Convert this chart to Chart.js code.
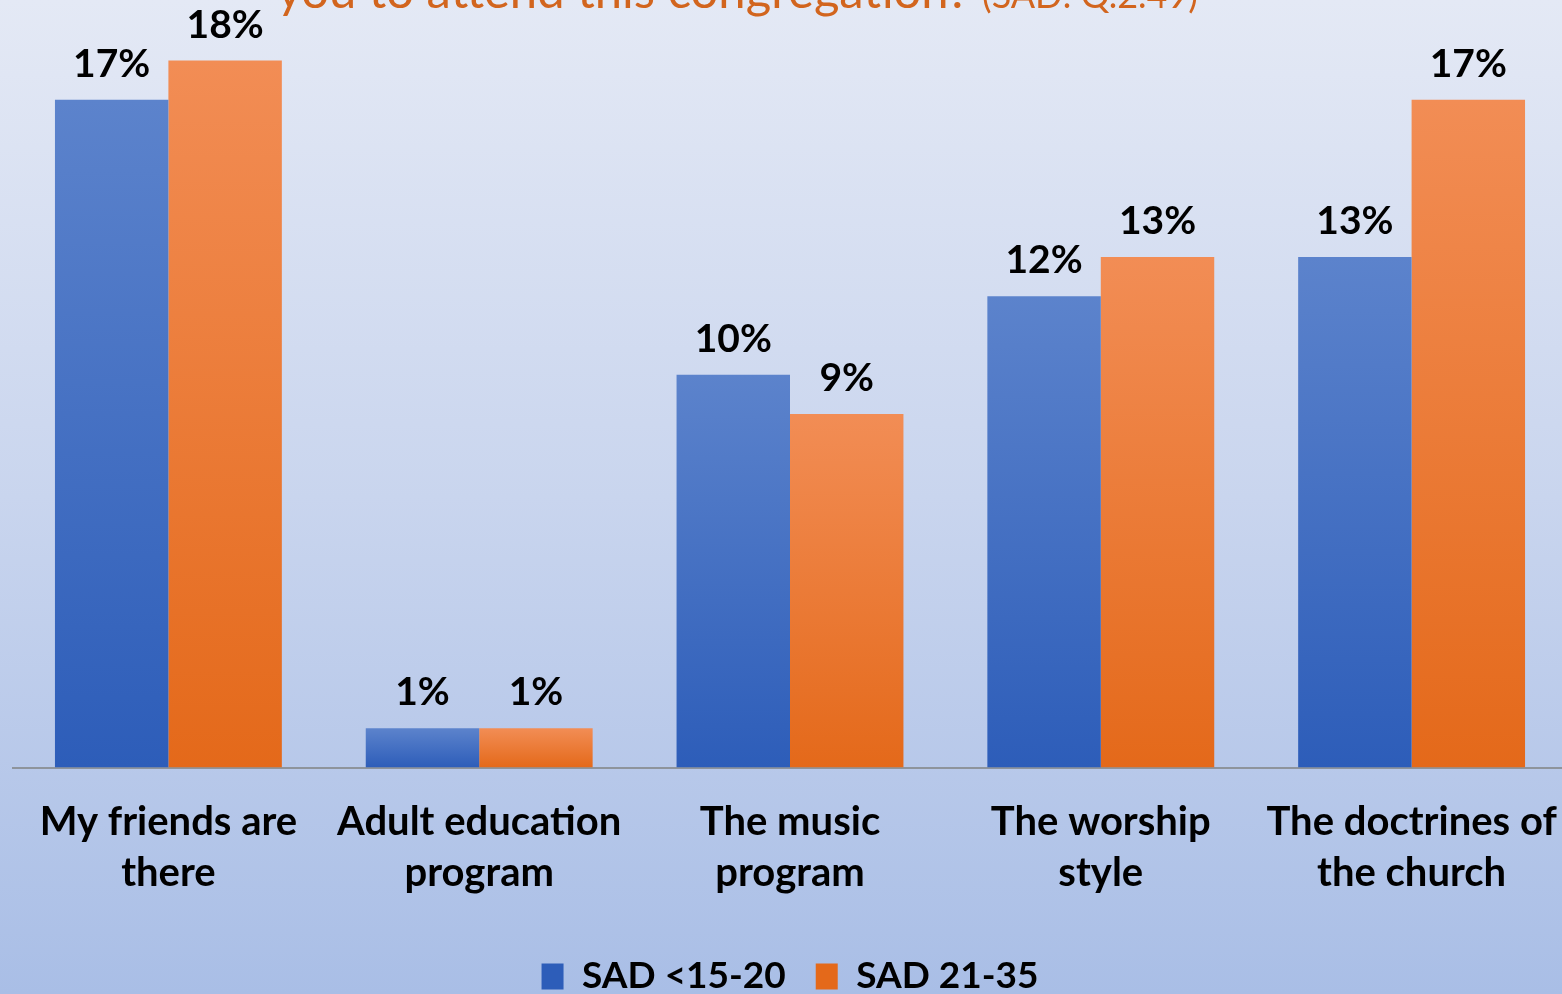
<!DOCTYPE html>
<html>
<head>
<meta charset="utf-8">
<script src="https://cdn.jsdelivr.net/npm/chart.js@4.4.1/dist/chart.umd.min.js"></script>
<style>
  html, body { margin: 0; padding: 0; }
  body {
    width: 1562px; height: 994px; overflow: hidden; position: relative;
    background: linear-gradient(to bottom, #e4e9f5 0%, #c9d5ee 50%, #a9bee6 100%);
  }
  /* 元の図は上と右が切れているので、キャンバスを少し外へはみ出させる */
  #wrap { position: absolute; left: 0; top: -40px; width: 1567px; height: 1045px; }
</style>
</head>
<body>
<div id="wrap"><canvas id="chart"></canvas></div>
<script>
// データ
const categories = [
  ['My friends are', 'there'],
  ['Adult education', 'program'],
  ['The music', 'program'],
  ['The worship', 'style'],
  ['The doctrines of', 'the church']
];
const seriesNames = ['SAD <15-20', 'SAD 21-35'];
const youngValues = [17, 1, 10, 12, 13];
const olderValues = [18, 1, 9, 13, 17];
const titleMain = 'you to attend this congregation?';
const titleNote = '(SAD: Q.2.49)';

const FONT = 'Lato, "Open Sans", sans-serif';

// 棒ごとに上から下へのグラデーション
function barFill(top, mid, bottom) {
  return function (c) {
    const chart = c.chart;
    if (c.type !== 'data' || !chart.chartArea || !chart.scales.y) return mid;
    const y = chart.scales.y;
    const yTop = y.getPixelForValue(c.raw);
    const yBase = y.getPixelForValue(0);
    const g = chart.ctx.createLinearGradient(0, yTop, 0, yBase);
    g.addColorStop(0, top);
    g.addColorStop(1, bottom);
    return g;
  };
}

// 値ラベル
const valueLabels = {
  id: 'valueLabels',
  afterDatasetsDraw(chart) {
    const ctx = chart.ctx;
    ctx.save();
    ctx.font = 'bold 39px ' + FONT;
    ctx.fillStyle = '#000';
    ctx.textAlign = 'center';
    ctx.textBaseline = 'alphabetic';
    chart.data.datasets.forEach((ds, i) => {
      chart.getDatasetMeta(i).data.forEach((bar, j) => {
        ctx.fillText(ds.data[j] + '%', bar.x, bar.y - 23);
      });
    });
    ctx.restore();
  }
};

// 上で切れているタイトル
const cutTitle = {
  id: 'cutTitle',
  afterDraw(chart) {
    const ctx = chart.ctx;
    ctx.save();
    ctx.fillStyle = '#d2651e';
    ctx.textBaseline = 'alphabetic';
    ctx.textAlign = 'left';
    ctx.font = '49px ' + FONT;
    const w1 = ctx.measureText(titleMain + ' ').width;
    ctx.font = '36px ' + FONT;
    const w2 = ctx.measureText(titleNote).width;
    const x0 = chart.width * 0.4705 - (w1 + w2) / 2;
    ctx.font = '49px ' + FONT;
    ctx.fillText(titleMain + ' ', x0, 48);
    ctx.font = '36px ' + FONT;
    ctx.fillText(titleNote, x0 + w1, 48);
    ctx.restore();
  }
};

new Chart(document.getElementById('chart'), {
  type: 'bar',
  data: {
    labels: categories,
    datasets: [
      {
        label: seriesNames[0],
        data: youngValues,
        backgroundColor: barFill('#5c83cc', '#3f6cc0', '#2d5db9'),
        borderWidth: 0
      },
      {
        label: seriesNames[1],
        data: olderValues,
        backgroundColor: barFill('#f28d55', '#ee7a2c', '#e4691a'),
        borderWidth: 0
      }
    ]
  },
  options: {
    responsive: true,
    maintainAspectRatio: false,
    animation: false,
    layout: { padding: { top: 22, left: 13, right: 0, bottom: 0 } },
    datasets: { bar: { categoryPercentage: 0.73, barPercentage: 1.0 } },
    scales: {
      x: {
        grid: { display: false, drawTicks: false },
        border: { display: true, color: '#8e949c', width: 2 },
        ticks: {
          color: '#000',
          font: { family: FONT, size: 40, weight: 'bold', lineHeight: 1.28 },
          padding: 29,
          maxRotation: 0,
          autoSkip: false
        },
        // ラベルがはみ出しても描画領域を縮めない
        afterFit(scale) {
          scale.paddingLeft = 0;
          scale.paddingRight = 0;
        }
      },
      y: { display: false, min: 0, max: 20 }
    },
    plugins: {
      legend: {
        position: 'bottom',
        labels: {
          color: '#000',
          font: { family: FONT, size: 37, weight: 'bold' },
          boxWidth: 22,
          boxHeight: 26,
          padding: 30
        }
      },
      tooltip: { enabled: false },
      title: { display: false }
    }
  },
  plugins: [valueLabels, cutTitle]
});
</script>
</body>
</html>
